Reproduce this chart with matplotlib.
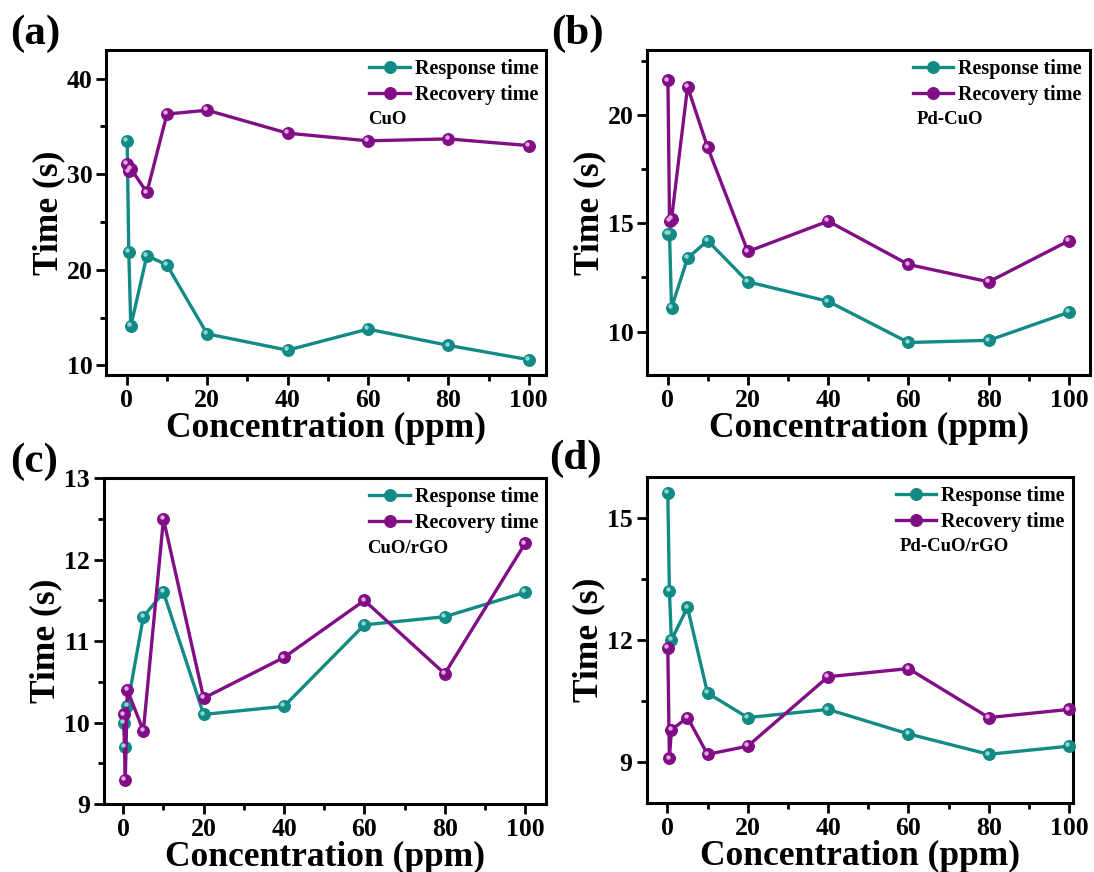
import matplotlib
matplotlib.use("Agg")
import matplotlib.pyplot as plt
from matplotlib.ticker import MultipleLocator
import matplotlib.transforms as mtransforms

plt.rcParams['font.family'] = ['Liberation Serif', 'DejaVu Serif']
plt.rcParams['font.weight'] = 'bold'

# Gas concentrations (ppm)
conc = [0.1, 0.5, 1, 5, 10, 20, 40, 60, 80, 100]

# Response / recovery times (s) for each sensing material
cuo_resp = [33.5, 21.9, 14.1, 21.5, 20.5, 13.3, 11.6, 13.8, 12.1, 10.6]
cuo_rec = [31.1, 30.3, 30.6, 28.1, 36.3, 36.7, 34.3, 33.5, 33.7, 33.0]

pdcuo_resp = [14.5, 14.5, 11.1, 13.4, 14.2, 12.3, 11.4, 9.5, 9.6, 10.9]
pdcuo_rec = [21.6, 15.1, 15.2, 21.3, 18.5, 13.7, 15.1, 13.1, 12.3, 14.2]

cuorgo_resp = [10.0, 9.7, 10.2, 11.3, 11.6, 10.1, 10.2, 11.2, 11.3, 11.6]
cuorgo_rec = [10.1, 9.3, 10.4, 9.9, 12.5, 10.3, 10.8, 11.5, 10.6, 12.2]

pdcuorgo_resp = [15.6, 13.2, 12.0, 12.8, 10.7, 10.1, 10.3, 9.7, 9.2, 9.4]
pdcuorgo_rec = [11.8, 9.1, 9.8, 10.1, 9.2, 9.4, 11.1, 11.3, 10.1, 10.3]

panel_tags = ['(a)', '(b)', '(c)', '(d)']
materials = ['CuO', 'Pd-CuO', 'CuO/rGO', 'Pd-CuO/rGO']
series_labels = ['Response time', 'Recovery time']

TEAL = '#128a85'
PURPLE = '#810e85'
TEAL_HI = '#8fd6d2'
PURPLE_HI = '#e3a6e6'

W, H = 1094, 872
fig = plt.figure(figsize=(W / 100, H / 100), dpi=100)


def px_axes(left, top, right, bottom):
    return fig.add_axes([left / W, 1 - bottom / H, (right - left) / W, (bottom - top) / H])


panels = [
    dict(box=(106.4, 50, 546.4, 375), xlim=(-5.07, 104.4), ylim=(9, 43),
         ymaj=10, ymin=5, resp=cuo_resp, rec=cuo_rec, tag_xy=(10, 15)),
    dict(box=(647.2, 50, 1090, 375), xlim=(-5.06, 105.2), ylim=(8, 23),
         ymaj=5, ymin=2.5, resp=pdcuo_resp, rec=pdcuo_rec, tag_xy=(551, 15)),
    dict(box=(103.6, 478.3, 546.4, 804), xlim=(-4.9, 105.3), ylim=(9, 13),
         ymaj=1, ymin=0.5, resp=cuorgo_resp, rec=cuorgo_rec, tag_xy=(10, 443)),
    dict(box=(646.5, 476.7, 1072.7, 803.3), xlim=(-5.2, 100.9), ylim=(8, 16),
         ymaj=3, ymin=1.5, resp=pdcuorgo_resp, rec=pdcuorgo_rec, tag_xy=(549, 440)),
]

for i, p in enumerate(panels):
    ax = px_axes(*p['box'])
    handles = []
    for vals, col, hi, lab in [(p['resp'], TEAL, TEAL_HI, series_labels[0]),
                               (p['rec'], PURPLE, PURPLE_HI, series_labels[1])]:
        line, = ax.plot(conc, vals, '-o', color=col, lw=2.4, ms=8.5,
                        mfc=col, mec=col, mew=0.8, label=lab, zorder=3,
                        clip_on=False)
        # small specular glint on each marker
        shift = mtransforms.offset_copy(ax.transData, fig=fig, x=-1.3, y=1.3,
                                        units='points')
        ax.plot(conc, vals, 'o', ls='none', color=hi, ms=3.2,
                mec='none', transform=shift, zorder=4, clip_on=False)
        handles.append(line)

    ax.set_xlim(*p['xlim'])
    ax.set_ylim(*p['ylim'])
    ax.xaxis.set_major_locator(MultipleLocator(20))
    ax.xaxis.set_minor_locator(MultipleLocator(10))
    ax.yaxis.set_major_locator(MultipleLocator(p['ymaj']))
    ax.yaxis.set_minor_locator(MultipleLocator(p['ymin']))
    ax.tick_params(which='both', direction='out', top=False, right=False,
                   width=2.0, labelsize=18.5)
    ax.tick_params(which='major', length=7, pad=3)
    ax.tick_params(which='minor', length=4)
    for lbl in ax.get_xticklabels() + ax.get_yticklabels():
        lbl.set_fontweight('bold')
    for s in ax.spines.values():
        s.set_linewidth(2.2)

    ax.set_xlabel('Concentration (ppm)', fontsize=25.5, fontweight='bold', labelpad=0)
    ax.set_ylabel('Time (s)', fontsize=25.5, fontweight='bold', labelpad=1)

    left, top, right, bottom = p['box']
    aw, ah = right - left, bottom - top
    ax.legend(handles, series_labels,
              loc='upper right', bbox_to_anchor=(1 - 8 / aw, 1 - 9 / ah),
              frameon=False, borderaxespad=0, borderpad=0,
              prop={'family': 'Liberation Serif', 'weight': 'bold', 'size': 14.5},
              handlelength=2.0, handletextpad=0.25, labelspacing=0.3)
    ax.text(0.595 if i != 1 else 0.608, 1 - 70 / ah, materials[i], transform=ax.transAxes,
            fontsize=13.5, fontweight='bold', va='center', ha='left')

    tx, ty = p['tag_xy']
    fig.text(tx / W, 1 - ty / H, panel_tags[i], fontsize=31, fontweight='bold',
             va='top', ha='left')

fig.savefig('out.png', dpi=100)
